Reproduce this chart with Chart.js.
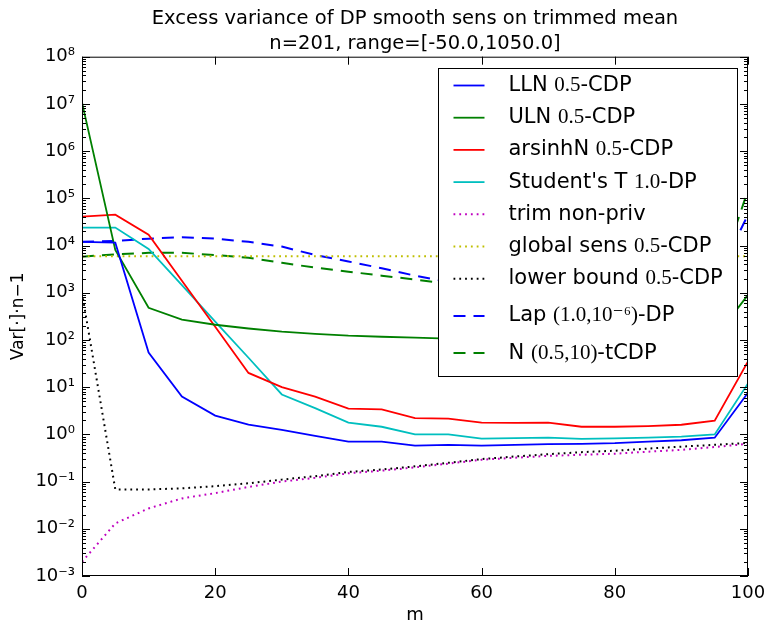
<!DOCTYPE html>
<html>
<head>
<meta charset="utf-8">
<title>Excess variance of DP smooth sens on trimmed mean</title>
<script src="https://cdn.jsdelivr.net/npm/chart.js@4.4.0/dist/chart.umd.min.js"></script>
<style>
  html, body { margin: 0; padding: 0; background: #fff; }
  #wrap { width: 765px; height: 624px; }
</style>
</head>
<body>
<div id="wrap"><canvas id="chart" width="765" height="624"></canvas></div>
<script>
// ── Data ─────────────────────────────────────────────────────────────────────
const M_VALUES = [0, 5, 10, 15, 20, 25, 30, 35, 40, 45, 50, 55, 60, 65, 70, 75, 80, 85, 90, 95, 100];

const LLN     = [1.2e4, 1.15e4, 54, 6.3, 2.5, 1.6, 1.25, 0.93, 0.7, 0.7, 0.58, 0.6, 0.58, 0.6, 0.62, 0.63, 0.65, 0.7, 0.75, 0.85, 7.6];
const ULN     = [1.07e7, 8.1e3, 480, 270, 210, 175, 150, 135, 123, 117, 112, 107, 104, 102, 101, 100, 100, 101, 103, 110, 900];
const ARSINHN = [4.1e4, 4.5e4, 1.7e4, 1.8e3, 190, 20, 10, 6.3, 3.5, 3.4, 2.2, 2.15, 1.77, 1.75, 1.77, 1.45, 1.45, 1.5, 1.6, 1.95, 35];
const STUDENT = [2.4e4, 2.4e4, 8.5e3, 1.45e3, 245, 42, 7, 3.6, 1.77, 1.45, 1.0, 1.0, 0.81, 0.83, 0.85, 0.8, 0.82, 0.85, 0.9, 1.0, 12];
const TRIM    = [2e-3, 0.013, 0.027, 0.044, 0.057, 0.077, 0.1, 0.12, 0.15, 0.17, 0.2, 0.24, 0.29, 0.32, 0.35, 0.37, 0.39, 0.43, 0.47, 0.54, 0.63];
const GLOBAL  = [5.9e3, 5.9e3, 5.9e3, 5.9e3, 5.9e3, 5.9e3, 5.9e3, 5.9e3, 5.9e3, 5.9e3, 5.9e3, 5.9e3, 5.9e3, 5.9e3, 5.9e3, 5.9e3, 5.9e3, 5.9e3, 5.9e3, 5.9e3, 5.9e3];
const LOWER   = [1000, 0.068, 0.068, 0.072, 0.08, 0.092, 0.11, 0.13, 0.16, 0.18, 0.21, 0.25, 0.3, 0.34, 0.38, 0.42, 0.45, 0.5, 0.55, 0.6, 0.66];
const LAP     = [1.2e4, 1.25e4, 1.4e4, 1.5e4, 1.4e4, 1.2e4, 9.5e3, 6.3e3, 4.6e3, 3.3e3, 2.3e3, 1.7e3, 1.3e3, 1.0e3, 850, 750, 700, 700, 800, 1.6e3, 4.5e4];
const NTCDP   = [5.8e3, 6.5e3, 7e3, 7e3, 6.3e3, 5.5e3, 4.3e3, 3.4e3, 2.8e3, 2.3e3, 1.9e3, 1.55e3, 1.3e3, 1.1e3, 950, 850, 800, 800, 850, 1.2e3, 1.5e5];

const SERIES_LABELS = [
  'LLN 0.5-CDP', 'ULN 0.5-CDP', 'arsinhN 0.5-CDP', "Student's T 1.0-DP",
  'trim non-priv', 'global sens 0.5-CDP', 'lower bound 0.5-CDP',
  'Lap (1.0,10⁻⁶)-DP', 'N (0.5,10)-tCDP',
];

const X_TICKS       = [0, 20, 40, 60, 80, 100];
const Y_TICKS       = [1e-3, 1e-2, 1e-1, 1e0, 1e1, 1e2, 1e3, 1e4, 1e5, 1e6, 1e7, 1e8];
const Y_TICK_LABELS = ['10⁻³', '10⁻²', '10⁻¹', '10⁰', '10¹', '10²', '10³', '10⁴', '10⁵', '10⁶', '10⁷', '10⁸'];

// ── Styles ───────────────────────────────────────────────────────────────────
const SANS  = '"DejaVu Sans", sans-serif';
const SERIF = '"Liberation Serif", "DejaVu Serif", serif';
const DOT   = [1.8, 4];
const DASH  = [12, 8];

const STYLES = [
  { color: '#0000ff', width: 1.8, dash: [] },
  { color: '#008000', width: 1.8, dash: [] },
  { color: '#ff0000', width: 1.8, dash: [] },
  { color: '#00bfbf', width: 1.8, dash: [] },
  { color: '#bf00bf', width: 2,   dash: DOT },
  { color: '#bfbf00', width: 2,   dash: DOT },
  { color: '#000000', width: 2,   dash: DOT },
  { color: '#0000ff', width: 2,   dash: DASH },
  { color: '#008000', width: 2,   dash: DASH },
];

const SERIES = [LLN, ULN, ARSINHN, STUDENT, TRIM, GLOBAL, LOWER, LAP, NTCDP];

// ── matplotlib-like frame, inward ticks and legend box ───────────────────────
const mplDecor = {
  id: 'mplDecor',
  afterDatasetsDraw(chart) {
    const { ctx, chartArea: a, scales: { x, y } } = chart;
    ctx.save();
    ctx.strokeStyle = '#000';
    ctx.lineWidth = 1;
    ctx.setLineDash([]);

    // ticks
    ctx.beginPath();
    X_TICKS.forEach(v => {
      const px = Math.round(x.getPixelForValue(v)) + 0.5;
      ctx.moveTo(px, a.bottom); ctx.lineTo(px, a.bottom - 8);
      ctx.moveTo(px, a.top);    ctx.lineTo(px, a.top + 8);
    });
    Y_TICKS.forEach(dec => {
      for (let k = 1; k <= 9; k++) {
        const v = k * dec;
        if (v > Y_TICKS[Y_TICKS.length - 1]) break;
        const py = Math.round(y.getPixelForValue(v)) + 0.5;
        const len = k === 1 ? 8 : 4;
        ctx.moveTo(a.left, py);  ctx.lineTo(a.left + len, py);
        ctx.moveTo(a.right, py); ctx.lineTo(a.right - len, py);
      }
    });
    ctx.stroke();

    // frame
    ctx.strokeRect(a.left + 0.5, a.top + 0.5, a.right - a.left - 1, a.bottom - a.top - 1);

    // legend
    const bw = 299, bh = 308;
    const bx = Math.round(a.right - 11 - bw) + 0.5;
    const by = Math.round(a.top + 11) + 0.5;
    ctx.fillStyle = '#fff';
    ctx.fillRect(bx, by, bw, bh);
    ctx.strokeRect(bx, by, bw, bh);

    chart.data.datasets.forEach((ds, i) => {
      const cy = by + 17 + i * 32.2 + Math.max(0, i - 6) * 5;
      ctx.beginPath();
      ctx.strokeStyle = ds.borderColor;
      ctx.lineWidth = ds.borderWidth;
      ctx.setLineDash(ds.borderDash || []);
      ctx.moveTo(bx + 15, cy);
      ctx.lineTo(bx + 46, cy);
      ctx.stroke();
      ctx.setLineDash([]);

      // sans text with the math parts in a serif face
      ctx.fillStyle = '#000';
      ctx.textBaseline = 'middle';
      ctx.textAlign = 'left';
      let tx = bx + 70;
      ds.label.split(/(\([^)]*\)|\d+\.\d+)/).forEach((part, j) => {
        if (!part) return;
        ctx.font = j % 2 ? `21px ${SERIF}` : `21px ${SANS}`;
        ctx.fillText(part, tx, cy);
        tx += ctx.measureText(part).width;
      });
    });
    ctx.restore();
  },
};

// ── Chart ────────────────────────────────────────────────────────────────────
new Chart(document.getElementById('chart'), {
  type: 'line',
  data: {
    datasets: SERIES.map((vals, i) => ({
      label: SERIES_LABELS[i],
      data: M_VALUES.map((m, j) => ({ x: m, y: vals[j] })),
      borderColor: STYLES[i].color,
      borderWidth: STYLES[i].width,
      borderDash: STYLES[i].dash,
      pointRadius: 0,
      tension: 0,
      fill: false,
    })),
  },
  options: {
    responsive: false,
    animation: false,
    devicePixelRatio: 1,
    layout: { padding: { left: 0, right: 17, top: 0, bottom: 0 } },
    plugins: {
      legend: { display: false },
      tooltip: { enabled: false },
      title: {
        display: true,
        fullSize: false,
        text: ['Excess variance of DP smooth sens on trimmed mean', 'n=201, range=[-50.0,1050.0]'],
        color: '#000',
        font: { family: SANS, size: 19.5, weight: 'normal', lineHeight: 1.3 },
        padding: { top: 6, bottom: 0 },
      },
    },
    scales: {
      x: {
        type: 'linear',
        min: 0, max: 100,
        afterBuildTicks: s => { s.ticks = X_TICKS.map(v => ({ value: v })); },
        afterFit: s => { s.height = 48; s.paddingLeft = 0; s.paddingRight = 0; },
        grid: { display: false, drawTicks: false },
        border: { display: false },
        ticks: { color: '#000', padding: 7, maxRotation: 0, font: { family: SANS, size: 18 } },
        title: { display: true, text: 'm', color: '#000', font: { family: SANS, size: 18, lineHeight: 1 }, padding: { top: 0, bottom: 0 } },
      },
      y: {
        type: 'logarithmic',
        min: Y_TICKS[0], max: Y_TICKS[Y_TICKS.length - 1],
        afterBuildTicks: s => { s.ticks = Y_TICKS.map(v => ({ value: v, major: true })); },
        afterFit: s => { s.width = 82; s.paddingTop = 0; s.paddingBottom = 0; },
        grid: { display: false, drawTicks: false },
        border: { display: false },
        ticks: {
          color: '#000', padding: 7, autoSkip: false,
          font: { family: SANS, size: 18 },
          callback: (v, i) => Y_TICK_LABELS[i],
        },
        title: { display: true, text: 'Var[·]·n−1', color: '#000', font: { family: SANS, size: 17 }, padding: { top: 8, bottom: 0 } },
      },
    },
  },
  plugins: [mplDecor],
});
</script>
</body>
</html>
